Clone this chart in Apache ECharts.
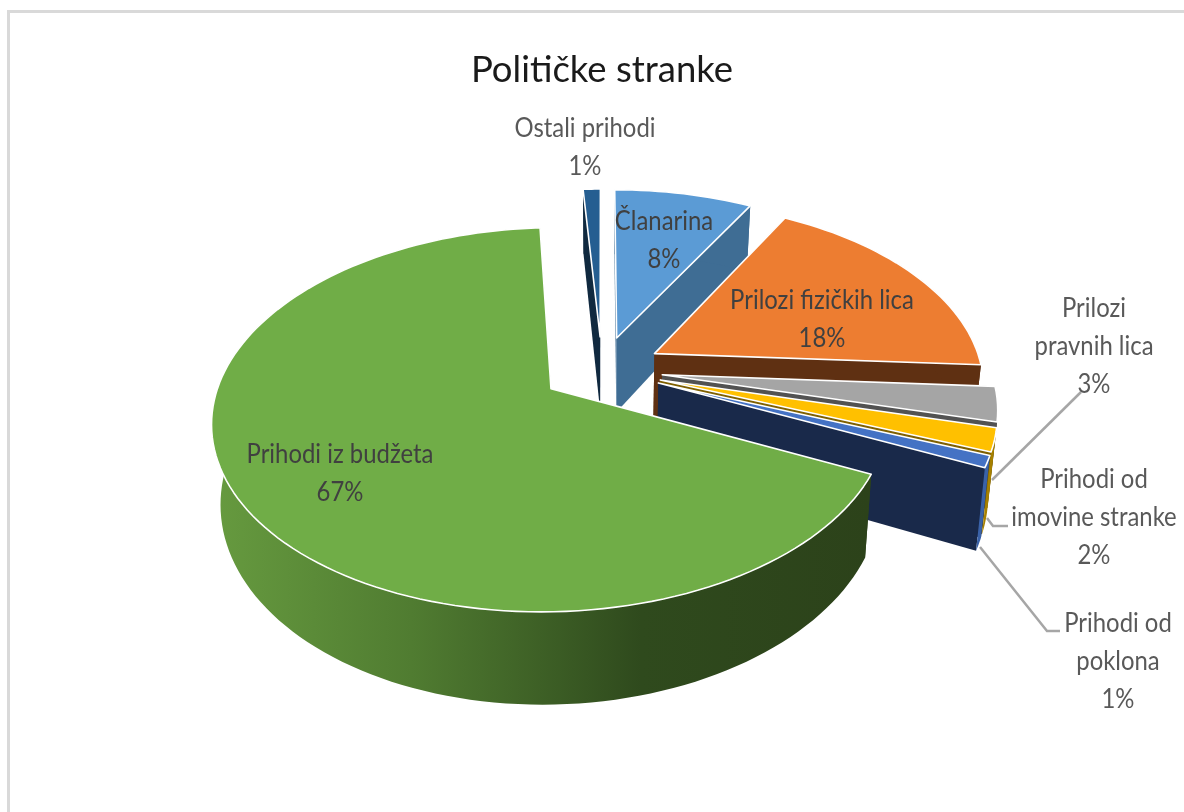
<!DOCTYPE html>
<html><head><meta charset="utf-8">
<script src="https://cdn.jsdelivr.net/npm/echarts@6/dist/echarts.min.js"></script>
<style>html,body{margin:0;padding:0;background:#fff}#c{width:1184px;height:812px}</style>
</head><body><div id="c"></div>
<script>
// Data (clockwise order, the first slice sits just left of twelve o'clock)
const categories = ['Ostali prihodi','Članarina','Prilozi fizičkih lica','Prilozi pravnih lica','Prihodi od imovine stranke','Prihodi od poklona','Prihodi iz budžeta'];
const shares = [1,8,18,3,2,1,67];
const labelLines = [['Ostali prihodi'],['Članarina'],['Prilozi fizičkih lica'],['Prilozi','pravnih lica'],['Prihodi od','imovine stranke'],['Prihodi od','poklona'],['Prihodi iz budžeta']];

// Styles
const topColors  = ['#255e91','#5b9bd5','#ed7d31','#a5a5a5','#ffc000','#4472c4','#70ad47'];
const wallColors = ['#10293f','#3f6d94','#5f3012','#525252','#7f6000','#19294a','#2c421a'];
const rimColors  = ['#10293f','#3f6d94','#5f3012','#525252','#a68000','#3a62a8',null];

// Layout of the projected pie
const P = {ax:602, ay:369.5, rx:328, ry:181, k:0.159, s:0.977, d:76.5, explode:0.185};
const labelPos = [[585,147],[664,240],[822,319],[1094,346],[1094,517],[1118,661],[340,473]];
const labelFill = ['#595959','#404040','#404040','#595959','#595959','#595959','#404040'];
const leaders = {3:[[1081,392],[992,480]],4:[[1008,526],[993,526],[987,518]],5:[[1060,631],[1047,631],[980,547]]};
const FONT = 'Lato', FS = 27, SX = 0.885, LH = 38;

const total = shares.reduce((a,b)=>a+b,0);
const startDeg = -shares[0]/total*360;

function proj(u,v,low){
  const w = 1/(1-P.k*v);
  let X = P.ax + P.rx*u*w, Y = P.ay + P.ry*v*w;
  if(low){ X = P.ax + (X-P.ax)*P.s; Y += P.d*w; }
  return [X,Y];
}
function renderSlice(params, api){
  const i = params.dataIndex, val = api.value(0);
  let before = 0; for(let j=0;j<i;j++) before += shares[j];
  const a0 = (startDeg + before/total*360)*Math.PI/180;
  const a1 = a0 + val/total*2*Math.PI, am = (a0+a1)/2;
  const cu = P.explode*Math.sin(am), cv = -P.explode*Math.cos(am);
  const arc = low => { const pts=[]; const n=Math.max(6,Math.ceil(val*2));
    for(let t=0;t<=n;t++){ const a=a0+(a1-a0)*t/n; pts.push(proj(cu+Math.sin(a),cv-Math.cos(a),low)); } return pts; };
  const apex = proj(cu,cv,false), apexL = proj(cu,cv,true);
  const top = arc(false), bot = arc(true);
  const base = i*10;
  const kids = [];
  const outerFill = rimColors[i] || new echarts.graphic.LinearGradient(215,0,870,0,[
     {offset:0,color:'#669a3f'},{offset:0.3,color:'#507c31'},{offset:0.65,color:'#2f4a1d'},{offset:1,color:'#2c421a'}],true);
  // radial walls
  kids.push({type:'polygon',z2:base+1,shape:{points:[apex,top[0],bot[0],apexL]},style:{fill:wallColors[i]},silent:true});
  kids.push({type:'polygon',z2:base+2,shape:{points:[apex,top[top.length-1],bot[bot.length-1],apexL]},style:{fill:wallColors[i]},silent:true});
  // outer wall
  kids.push({type:'polygon',z2:base+3,shape:{points:top.concat(bot.slice().reverse())},style:{fill:outerFill},silent:true});
  // top face
  kids.push({type:'polygon',z2:base+4,shape:{points:[apex].concat(top)},style:{fill:topColors[i],stroke:'#ffffff',lineWidth:1.6,lineJoin:'round'}});
  // label
  const lines = labelLines[i].concat([Math.round(val/total*100)+'%']);
  kids.push({type:'text',z2:1000,x:labelPos[i][0],y:labelPos[i][1],scaleX:SX,silent:true,
    style:{text:lines.join('\n'),x:0,y:0,align:'center',verticalAlign:'middle',fontFamily:FONT,fontSize:FS,lineHeight:LH,fill:labelFill[i]}});
  if(leaders[i]) kids.push({type:'polyline',z2:900,shape:{points:leaders[i]},style:{fill:null,stroke:'#a6a6a6',lineWidth:2.5},silent:true});
  return {type:'group',children:kids};
}
const chart = echarts.init(document.getElementById('c'),null,{renderer:'canvas'});
chart.setOption({
  animation:false,
  backgroundColor:'#ffffff',
  title:{text:'Političke stranke',left:597,top:47,textAlign:'center',textStyle:{fontFamily:FONT,fontWeight:'normal',fontSize:36.5,color:'#1a1a1a'}},
  graphic:[{type:'polyline',silent:true,shape:{points:[[8.5,812],[8.5,11.5],[1184,11.5]]},style:{fill:null,stroke:'#d9d9d9',lineWidth:3}}],
  series:[{type:'custom',coordinateSystem:'none',renderItem:renderSlice,clip:false,
    data:shares.map((v,i)=>({name:categories[i],value:[v]}))}]
});
</script></body></html>
